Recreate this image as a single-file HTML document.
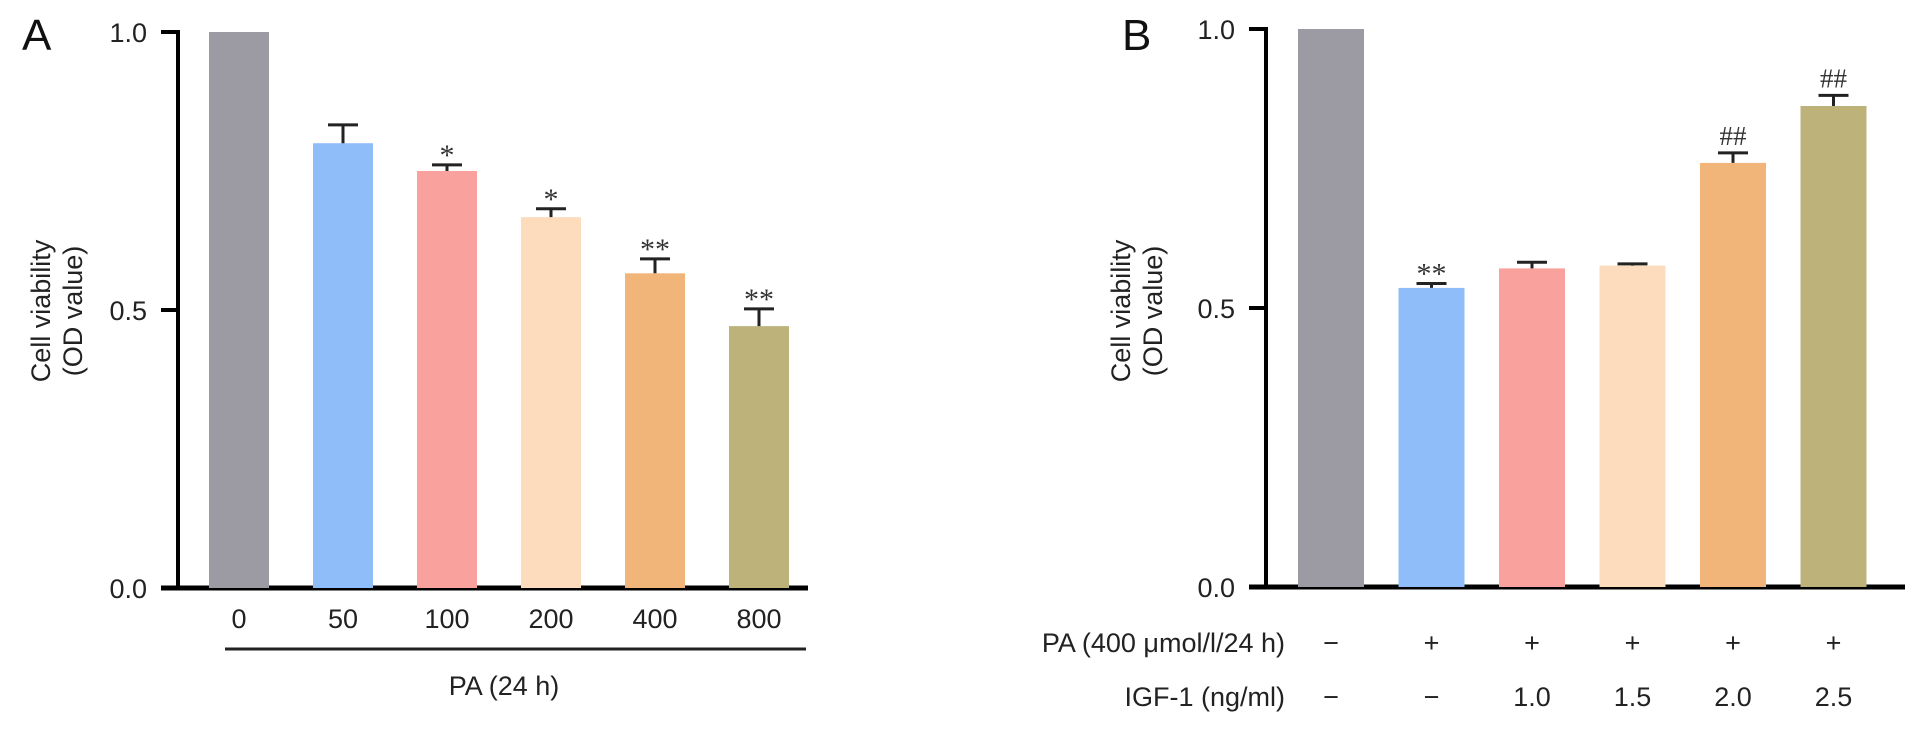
<!DOCTYPE html>
<html><head><meta charset="utf-8"><style>
html,body{margin:0;padding:0;background:#fff;}
svg{display:block;font-family:"Liberation Sans",Arial,sans-serif;}
</style></head><body>
<svg id="chart" width="1913" height="733" viewBox="0 0 1913 733">
<g id="pa"></g>
<g id="pb"></g>
</svg>
<script>
const colors = ["#9c9ba3","#8fbdfa","#f9a19c","#fddcbd","#f1b479","#bcb27a"];
const catsA = ["0","50","100","200","400","800"];
const valsA = [1.0,0.80,0.75,0.667,0.566,0.471];
const errA = [0,0.033,0.011,0.015,0.026,0.031];
const sigA = ["","","*","*","**","**"];
const valsB = [1.0,0.536,0.571,0.576,0.760,0.862];
const errB = [0,0.008,0.011,0.003,0.018,0.019];
const sigB = ["","**","","","##","##"];
const paRowB = ["\u2212","+","+","+","+","+"];
const igfRowB = ["\u2212","\u2212","1.0","1.5","2.0","2.5"];
const ticks = [0,0.5,1.0];
const tickLabels = ["0.0","0.5","1.0"];
const NS="http://www.w3.org/2000/svg";
function mk(p,t,a,txt){const e=document.createElementNS(NS,t);for(const k in a)e.setAttribute(k,a[k]);if(txt!==undefined)e.textContent=txt;p.appendChild(e);return e;}

function panel(g,cfg){
  const y=v=>cfg.y0-(cfg.y0-cfg.y1)*v;
  const x=i=>cfg.bx0+i*cfg.step;
  let e=mk(g,"text",{x:cfg.letterX,y:50,"font-size":44,fill:"#111"},cfg.letter);
  
  
  e=mk(g,"line",{x1:cfg.ax,y1:y(1)-2,x2:cfg.ax,y2:cfg.y0+2,stroke:"#000","stroke-width":4});
  
  
  e=mk(g,"line",{x1:cfg.ax-17,y1:cfg.y0,x2:cfg.xEnd,y2:cfg.y0,stroke:"#000","stroke-width":5});
  
  
  ticks.forEach((t,i)=>{
    let l=mk(g,"line",{x1:cfg.ax-17,y1:y(t),x2:cfg.ax,y2:y(t),stroke:"#000","stroke-width":4});
    
    
    let tx=mk(g,"text",{x:cfg.ax-31,y:y(t)+10,"font-size":27,"text-anchor":"end",fill:"#222"},tickLabels[i]);
    
    
  });
  const tt=mk(g,"text",{transform:`translate(${cfg.titleX},311) rotate(-90)`,"font-size":27,"text-anchor":"middle",fill:"#222"});
  
  
  mk(tt,"tspan",{x:0,y:0},"Cell viability");
  mk(tt,"tspan",{x:0,y:32},"(OD value)");
  cfg.vals.forEach((v,i)=>{
    const cx=x(i)+cfg.bw/2;
    let r=mk(g,"rect",{x:x(i),y:y(v),width:cfg.bw,height:cfg.y0-y(v),fill:colors[i]});
    
    
    if(cfg.err[i]>0){
      const et=y(v+cfg.err[i]);
      let el=mk(g,"path",{d:`M${cx},${y(v)} V${et} M${cx-15},${et} H${cx+15}`,stroke:"#222","stroke-width":3,fill:"none"});
      
      
    }
    if(cfg.sig[i]){
      const st=y(v+cfg.err[i])-8;
      const hash=cfg.sig[i][0]=="#";
      let s=mk(g,"text",{x:cx,y:hash?st:st+8,"font-size":hash?27:30,"text-anchor":"middle",fill:"#333","font-family":"Liberation Serif, serif"},cfg.sig[i]);
      
      
    }
  });
  return {x,y};
}

const ga=document.getElementById("pa");
const A=panel(ga,{letter:"A",letterX:22,ax:178,y0:588,y1:32,bx0:209,step:104,bw:60,xEnd:808,titleX:50,vals:valsA,err:errA,sig:sigA});
catsA.forEach((c,i)=>{
  let t=mk(ga,"text",{x:A.x(i)+30,y:628,"font-size":27,"text-anchor":"middle",fill:"#222"},c);
  
  
});
let e=mk(ga,"line",{x1:225,y1:649,x2:806,y2:649,stroke:"#222","stroke-width":3});


e=mk(ga,"text",{x:504,y:695,"font-size":27,"text-anchor":"middle",fill:"#222"},"PA (24 h)");



const gb=document.getElementById("pb");
const B=panel(gb,{letter:"B",letterX:1122,ax:1266,y0:587,y1:29,bx0:1298,step:100.5,bw:66,xEnd:1905,titleX:1130,vals:valsB,err:errB,sig:sigB});
e=mk(gb,"text",{x:1285,y:652,"font-size":27,"text-anchor":"end",fill:"#222"},"PA (400 \u03bcmol/l/24 h)");


e=mk(gb,"text",{x:1285,y:706,"font-size":27,"text-anchor":"end",fill:"#222"},"IGF-1 (ng/ml)");


paRowB.forEach((c,i)=>{
  let t=mk(gb,"text",{x:B.x(i)+33,y:652,"font-size":27,"text-anchor":"middle",fill:"#222"},c);
  
  
});
igfRowB.forEach((c,i)=>{
  let t=mk(gb,"text",{x:B.x(i)+33,y:706,"font-size":27,"text-anchor":"middle",fill:"#222"},c);
  
  
});
</script>
</body></html>
